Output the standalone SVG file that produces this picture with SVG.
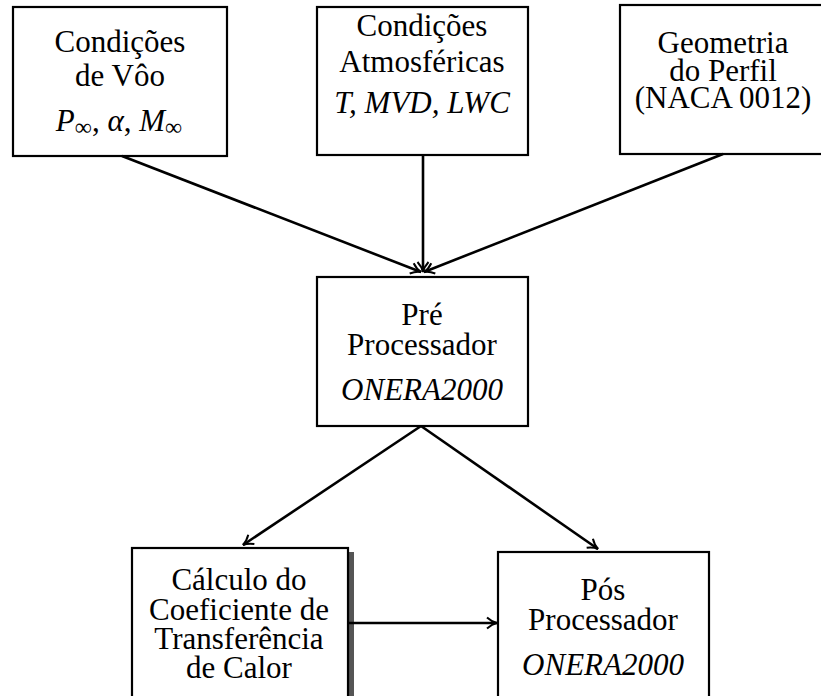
<svg xmlns="http://www.w3.org/2000/svg" width="821" height="696" viewBox="0 0 821 696">
<style>
.box{fill:#fff;stroke:#000;stroke-width:2.2}
.t{font-family:"Liberation Serif","Times New Roman",serif;font-size:31px;text-anchor:middle;fill:#000}
.i{font-style:italic}
.c{fill:none;stroke:#000;stroke-width:2.6}
</style>
<defs>
<marker id="ah" viewBox="-12 -7 14 14" refX="0" refY="0" markerWidth="14" markerHeight="14" markerUnits="userSpaceOnUse" orient="auto">
<path d="M-10,-5.5 Q-5,-1 0,0 Q-5,1 -10,5.5" fill="none" stroke="#000" stroke-width="2"/>
</marker>
</defs>
<rect width="821" height="696" fill="#fff"/>
<g id="n1">
<rect class="box" x="13" y="7" width="214" height="149"/>
<text class="t" x="120" y="52">Condições</text>
<text class="t" x="120" y="86">de Vôo</text>
<text class="t" x="119" y="131"><tspan class="i">P</tspan><tspan font-size="24" dy="4">∞</tspan><tspan dy="-4">, </tspan><tspan class="i">α</tspan><tspan>, </tspan><tspan class="i">M</tspan><tspan font-size="24" dy="4">∞</tspan></text>
</g>
<g id="n2">
<rect class="box" x="317" y="7" width="211" height="148"/>
<text class="t" x="422" y="36">Condições</text>
<text class="t" x="422" y="72">Atmosféricas</text>
<text class="t i" x="422" y="113">T, MVD, LWC</text>
</g>
<g id="n3">
<rect class="box" x="620" y="5" width="206" height="149"/>
<text class="t" x="723" y="53">Geometria</text>
<text class="t" x="723" y="81">do Perfil</text>
<text class="t" x="723" y="108">(NACA 0012)</text>
</g>
<g id="n4">
<rect class="box" x="317" y="277" width="211" height="149"/>
<text class="t" x="422" y="325">Pré</text>
<text class="t" x="422" y="355">Processador</text>
<text class="t i" x="422" y="400">ONERA2000</text>
</g>
<g id="n5">
<rect x="349" y="552" width="5" height="150" fill="#555"/>
<rect class="box" x="132" y="548" width="216" height="152"/>
<text class="t" x="239" y="590">Cálculo do</text>
<text class="t" x="239" y="620">Coeficiente de</text>
<text class="t" x="239" y="649">Transferência</text>
<text class="t" x="239" y="678">de Calor</text>
</g>
<g id="n6">
<rect class="box" x="498" y="552" width="211" height="150"/>
<text class="t" x="603" y="600">Pós</text>
<text class="t" x="603" y="630">Processador</text>
<text class="t i" x="603" y="675">ONERA2000</text>
</g>
<g id="connectors">
<line class="c" x1="122" y1="156" x2="421" y2="272" marker-end="url(#ah)"/>
<line class="c" x1="423" y1="155" x2="423" y2="272" marker-end="url(#ah)"/>
<line class="c" x1="723" y1="154" x2="424" y2="272" marker-end="url(#ah)"/>
<line class="c" x1="421" y1="426" x2="243" y2="545" marker-end="url(#ah)"/>
<line class="c" x1="421" y1="426" x2="598" y2="549" marker-end="url(#ah)"/>
<line class="c" x1="349" y1="623" x2="497" y2="623" marker-end="url(#ah)"/>
</g>
</svg>
